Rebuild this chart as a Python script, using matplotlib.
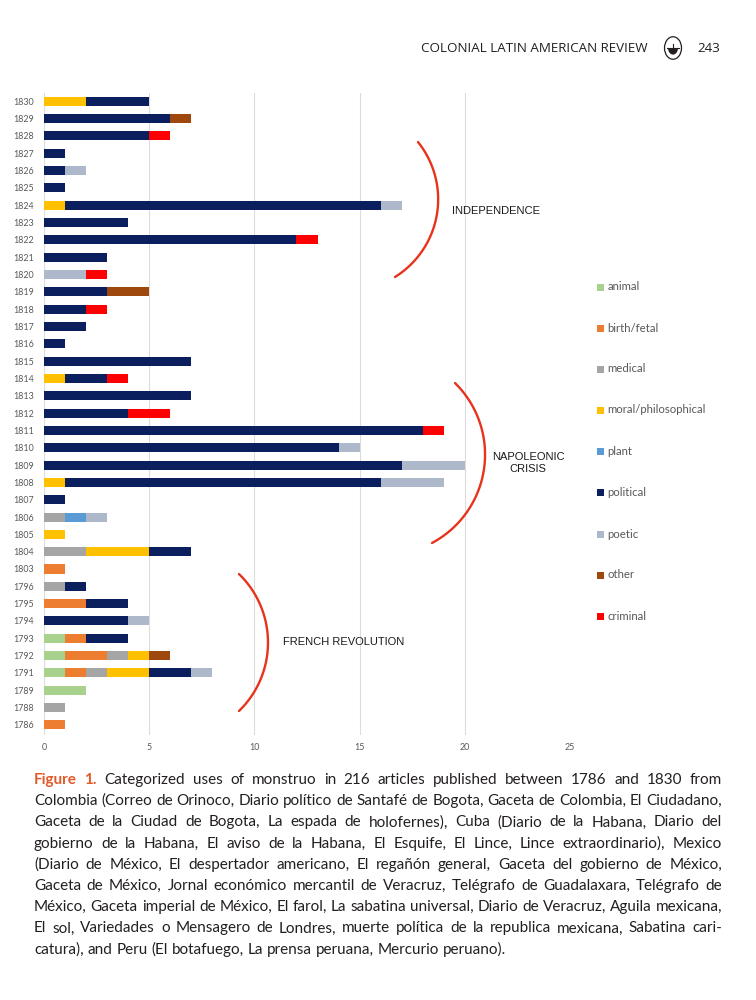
import numpy as np
import matplotlib
matplotlib.use("Agg")
import matplotlib.pyplot as plt
from matplotlib.lines import Line2D
from matplotlib.patches import Rectangle, Circle, Wedge

# ---------------- data ----------------
years = [1830, 1829, 1828, 1827, 1826, 1825, 1824, 1823, 1822, 1821,
         1820, 1819, 1818, 1817, 1816, 1815, 1814, 1813, 1812, 1811,
         1810, 1809, 1808, 1807, 1806, 1805, 1804, 1803, 1796, 1795,
         1794, 1793, 1792, 1791, 1789, 1788, 1786]

categories = ["animal", "birth/fetal", "medical", "moral/philosophical",
              "plant", "political", "poetic", "other", "criminal"]

animal = [0, 0, 0, 0, 0, 0, 0, 0, 0, 0,
          0, 0, 0, 0, 0, 0, 0, 0, 0, 0,
          0, 0, 0, 0, 0, 0, 0, 0, 0, 0,
          0, 1, 1, 1, 2, 0, 0]
birth_fetal = [0, 0, 0, 0, 0, 0, 0, 0, 0, 0,
               0, 0, 0, 0, 0, 0, 0, 0, 0, 0,
               0, 0, 0, 0, 0, 0, 0, 1, 0, 2,
               0, 1, 2, 1, 0, 0, 1]
medical = [0, 0, 0, 0, 0, 0, 0, 0, 0, 0,
           0, 0, 0, 0, 0, 0, 0, 0, 0, 0,
           0, 0, 0, 0, 1, 0, 2, 0, 1, 0,
           0, 0, 1, 1, 0, 1, 0]
moral = [2, 0, 0, 0, 0, 0, 1, 0, 0, 0,
         0, 0, 0, 0, 0, 0, 1, 0, 0, 0,
         0, 0, 1, 0, 0, 1, 3, 0, 0, 0,
         0, 0, 1, 2, 0, 0, 0]
plant = [0, 0, 0, 0, 0, 0, 0, 0, 0, 0,
         0, 0, 0, 0, 0, 0, 0, 0, 0, 0,
         0, 0, 0, 0, 1, 0, 0, 0, 0, 0,
         0, 0, 0, 0, 0, 0, 0]
political = [3, 6, 5, 1, 1, 1, 15, 4, 12, 3,
             0, 3, 2, 2, 1, 7, 2, 7, 4, 18,
             14, 17, 15, 1, 0, 0, 2, 0, 1, 2,
             4, 2, 0, 2, 0, 0, 0]
poetic = [0, 0, 0, 0, 1, 0, 1, 0, 0, 0,
          2, 0, 0, 0, 0, 0, 0, 0, 0, 0,
          1, 3, 3, 0, 1, 0, 0, 0, 0, 0,
          1, 0, 0, 1, 0, 0, 0]
other = [0, 1, 0, 0, 0, 0, 0, 0, 0, 0,
         0, 2, 0, 0, 0, 0, 0, 0, 0, 0,
         0, 0, 0, 0, 0, 0, 0, 0, 0, 0,
         0, 0, 1, 0, 0, 0, 0]
criminal = [0, 0, 1, 0, 0, 0, 0, 0, 1, 0,
            1, 0, 1, 0, 0, 0, 1, 0, 2, 1,
            0, 0, 0, 0, 0, 0, 0, 0, 0, 0,
            0, 0, 0, 0, 0, 0, 0]

series = [animal, birth_fetal, medical, moral, plant, political, poetic, other, criminal]
colors = ["#A9D18E", "#ED7D31", "#A5A5A5", "#FFC000", "#5B9BD5",
          "#0B1F5E", "#ADB9CA", "#9E480E", "#FF0000"]

xticks = [0, 5, 10, 15, 20, 25]

caption_lines = [
    "Categorized uses of monstruo in 216 articles published between 1786 and 1830 from",
    "Colombia (Correo de Orinoco, Diario político de Santafé de Bogota, Gaceta de Colombia, El Ciudadano,",
    "Gaceta de la Ciudad de Bogota, La espada de holofernes), Cuba (Diario de la Habana, Diario del",
    "gobierno de la Habana, El aviso de la Habana, El Esquife, El Lince, Lince extraordinario), Mexico",
    "(Diario de México, El despertador americano, El regañón general, Gaceta del gobierno de México,",
    "Gaceta de México, Jornal económico mercantil de Veracruz, Telégrafo de Guadalaxara, Telégrafo de",
    "México, Gaceta imperial de México, El farol, La sabatina universal, Diario de Veracruz, Aguila mexicana,",
    "El sol, Variedades o Mensagero de Londres, muerte política de la republica mexicana, Sabatina cari-",
    "catura), and Peru (El botafuego, La prensa peruana, Mercurio peruano).",
]

# ---------------- figure ----------------
W, H = 756, 1000
fig = plt.figure(figsize=(W / 100, H / 100), dpi=100)
fig.patch.set_facecolor("white")


def fx(px):
    return np.asarray(px) / W


def fy(py):
    return 1 - np.asarray(py) / H


ax = fig.add_axes([fx(44), fy(735), fx(570) - fx(44), fy(93) - fy(735)])
ypos = np.arange(len(years))
left = np.zeros(len(years))
for vals, col, name in zip(series, colors, categories):
    v = np.array(vals, dtype=float)
    ax.barh(ypos, v, left=left, height=0.52, color=col, linewidth=0, label=name, zorder=3)
    left += v

ax.set_xlim(0, 25)
ax.set_ylim(36.58, -0.47)
ax.set_yticks(ypos)
ax.set_yticklabels([str(y) for y in years], fontsize=6.4, color="#595959", family="Lato")
ax.set_xticks(xticks)
ax.set_xticklabels([str(t) for t in xticks], fontsize=6.4, color="#595959", family="Lato")
ax.tick_params(length=0, pad=7)
ax.tick_params(axis="x", pad=6)
for s in ax.spines.values():
    s.set_visible(False)
ax.grid(axis="x", color="#DCDCDC", linewidth=0.8, zorder=0)
ax.set_facecolor("none")

# ---------------- legend (manual) ----------------
leg_y = [287, 328, 369, 410, 451, 492, 534, 575, 616]
for name, col, yy in zip(categories, colors, leg_y):
    fig.add_artist(Rectangle((fx(597), fy(yy + 3.5)), fx(6.5), 6.5 / H, transform=fig.transFigure,
                             facecolor=col, edgecolor="none"))
    fig.text(fx(607.5), fy(yy), name, fontsize=8.2, color="#595959", family="Lato",
             va="center", ha="left")


# ---------------- arcs ----------------
def arc_through(p1, p2, p3, n=200):
    (x1, y1), (x2, y2), (x3, y3) = p1, p2, p3
    d = 2 * (x1 * (y2 - y3) + x2 * (y3 - y1) + x3 * (y1 - y2))
    ux = ((x1**2 + y1**2) * (y2 - y3) + (x2**2 + y2**2) * (y3 - y1) + (x3**2 + y3**2) * (y1 - y2)) / d
    uy = ((x1**2 + y1**2) * (x3 - x2) + (x2**2 + y2**2) * (x1 - x3) + (x3**2 + y3**2) * (x2 - x1)) / d
    r = np.hypot(x1 - ux, y1 - uy)
    a1 = np.arctan2(y1 - uy, x1 - ux)
    a3 = np.arctan2(y3 - uy, x3 - ux)
    t = np.linspace(a1, a3, n)
    xs = ux + r * np.cos(t)
    ys = uy + r * np.sin(t)
    fig.add_artist(Line2D(fx(xs), fy(ys), transform=fig.transFigure,
                          color="#E8331C", linewidth=1.7, solid_capstyle="round"))


arc_through((418, 142), (438, 205), (395, 277))
arc_through((455, 383), (485, 458), (432, 543))
arc_through((239, 574), (268, 641), (239, 711))

ann_font = dict(family="Liberation Sans", fontsize=8.0, color="#1a1a1a")
fig.text(fx(452), fy(211), "INDEPENDENCE", va="center", ha="left", **ann_font)
fig.text(fx(528), fy(463), "NAPOLEONIC\nCRISIS", va="center", ha="center",
         linespacing=1.2, **ann_font)
fig.text(fx(283), fy(642), "FRENCH REVOLUTION", va="center", ha="left", **ann_font)

# ---------------- header ----------------
fig.text(fx(648), fy(48), "COLONIAL LATIN AMERICAN REVIEW", ha="right", va="center",
         fontsize=9.6, color="#231F20", family="Open Sans")
fig.add_artist(Circle((fx(673), fy(48)), 8.5 / W, transform=fig.transFigure,
                      facecolor="white", edgecolor="#231F20", linewidth=0.9))
fig.add_artist(Wedge((fx(673), fy(48)), 5 / W, 180, 360, transform=fig.transFigure,
                     facecolor="#231F20", edgecolor="none"))
fig.add_artist(Line2D([fx(667), fx(679)], [fy(48), fy(48)], transform=fig.transFigure,
                      color="#231F20", linewidth=0.8))
fig.add_artist(Line2D([fx(673), fx(673)], [fy(48), fy(44)], transform=fig.transFigure,
                      color="#231F20", linewidth=0.8))
fig.text(fx(720), fy(48), "243", ha="right", va="center",
         fontsize=9.6, color="#231F20", family="Open Sans")

# ---------------- caption (justified) ----------------
cap_left, cap_right = 34, 722
cap_y0, cap_dy = 784, 21.2
cap_size = 11.0
cap_family = "Lato"
renderer = fig.canvas.get_renderer()


def word_width(word, bold=False, size=cap_size):
    t = fig.text(0, 0, word, fontsize=size, family=cap_family,
                 weight="bold" if bold else "normal")
    w = t.get_window_extent(renderer).width
    t.remove()
    return w


for i, line in enumerate(caption_lines):
    words = line.split(" ")
    if i == 0:
        words = ["Figure", "1."] + words
        styles = [True, True] + [False] * (len(words) - 2)
    else:
        styles = [False] * len(words)
    size = cap_size
    space = word_width("a b", size=size) - word_width("ab", size=size)
    widths = [word_width(w, b, size) for w, b in zip(words, styles)]
    last = i == len(caption_lines) - 1
    # shrink slightly if a full line would not fit with a minimal gap
    while not last and sum(widths) + 0.6 * space * (len(words) - 1) > cap_right - cap_left:
        size -= 0.1
        space = word_width("a b", size=size) - word_width("ab", size=size)
        widths = [word_width(w, b, size) for w, b in zip(words, styles)]
    if last or len(words) < 2:
        gap = space
    else:
        gap = (cap_right - cap_left - sum(widths)) / (len(words) - 1)
    x = cap_left
    yy = cap_y0 + i * cap_dy
    for w, b, wd in zip(words, styles, widths):
        fig.text(fx(x), fy(yy), w, fontsize=size, family=cap_family,
                 weight="bold" if b else "normal",
                 color="#E2592A" if b else "#231F20", va="baseline", ha="left")
        x += wd + gap

fig.savefig("out.png", dpi=100, facecolor="white")
